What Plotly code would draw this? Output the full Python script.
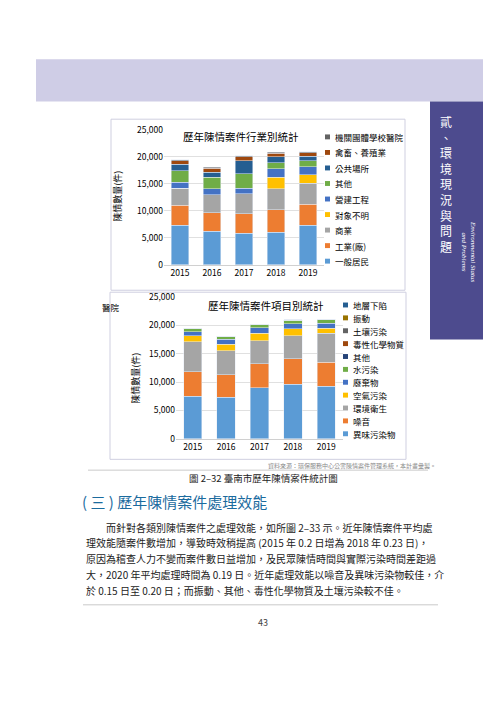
import plotly.graph_objects as go

years = ["2015", "2016", "2017", "2018", "2019"]

# 行業別
ind_names = ["一般居民", "工業(廠)", "商業", "對象不明", "營建工程", "其他",
             "公共場所", "禽畜、養殖業", "機關團體學校醫院"]
ind_vals = [
    [7300, 6200, 5800, 6000, 7300],
    [3700, 3400, 3700, 4200, 3900],
    [3200, 3400, 3700, 3900, 3900],
    [0, 0, 0, 2100, 1600],
    [1100, 1100, 1000, 1600, 1500],
    [2100, 2100, 2700, 1100, 1100],
    [1200, 1000, 2400, 1100, 800],
    [700, 700, 700, 700, 700],
    [200, 200, 200, 200, 200],
]
ind_colors = ["#5b9bd5", "#ed7d31", "#a5a5a5", "#ffc000", "#4472c4",
              "#70ad47", "#255e91", "#9e480e", "#636363"]

# 項目別
item_names = ["異味污染物", "噪音", "環境衛生", "空氣污染", "廢棄物", "水污染",
              "其他", "毒性化學物質", "土壤污染", "振動", "地層下陷"]
item_vals = [
    [7500, 7300, 9000, 9600, 9300],
    [4300, 4000, 4200, 4500, 4200],
    [5300, 4200, 4100, 4100, 5100],
    [1100, 1200, 1300, 1200, 900],
    [700, 900, 1000, 900, 900],
    [500, 400, 500, 600, 600],
    [60, 50, 60, 60, 60],
    [30, 30, 30, 30, 30],
    [20, 20, 20, 20, 20],
    [20, 20, 20, 20, 20],
    [5, 5, 5, 5, 5],
]
item_colors = ["#5b9bd5", "#ed7d31", "#a5a5a5", "#ffc000", "#4472c4",
               "#70ad47", "#264478", "#9e480e", "#636363", "#997300", "#255e91"]

body_lines = [
    "　　而針對各類別陳情案件之處理效能，如所圖 2–33 示。近年陳情案件平均處",
    "理效能隨案件數增加，導致時效稍提高 (2015 年 0.2 日增為 2018 年 0.23 日)，",
    "原因為稽查人力不變而案件數日益增加，及民眾陳情時間與實際污染時間差距過",
    "大，2020 年平均處理時間為 0.19 日。近年處理效能以噪音及異味污染物較佳，介",
    "於 0.15 日至 0.20 日；而振動、其他、毒性化學物質及土壤污染較不佳。",
]

W, H = 500, 707
FONT = "Noto Sans CJK TC"


def px(x):
    return x / W


def py(y):
    return 1 - y / H


fig = go.Figure()
for name, vals, col in zip(ind_names, ind_vals, ind_colors):
    fig.add_trace(go.Bar(x=years, y=vals, name=name, marker_color=col,
                         xaxis="x", yaxis="y", showlegend=False))
for name, vals, col in zip(item_names, item_vals, item_colors):
    fig.add_trace(go.Bar(x=years, y=vals, name=name, marker_color=col,
                         xaxis="x2", yaxis="y2", showlegend=False))

axis_font = dict(family=FONT, size=8.5, color="#000")
yax = dict(range=[0, 25000], dtick=5000, tickformat=",", showgrid=True,
           gridcolor="#e0e0e0", zeroline=False, tickfont=axis_font,
           ticks="", showline=False)
xax = dict(tickfont=axis_font, showline=True, linecolor="#d0d0d0", ticks="")

shapes = [
    dict(type="rect", xref="paper", yref="paper", x0=px(28), x1=px(475),
         y0=py(88), y1=py(45), fillcolor="#cfcde6", line_width=0, layer="below"),
    dict(type="rect", xref="paper", yref="paper", x0=px(422), x1=px(475),
         y0=py(330), y1=py(88), fillcolor="#4d4b8e", line_width=0, layer="below"),
    dict(type="rect", xref="paper", yref="paper", x0=px(103), x1=px(397),
         y0=py(280), y1=py(106), fillcolor="rgba(0,0,0,0)",
         line=dict(color="#cfcfe0", width=1), layer="below"),
    dict(type="rect", xref="paper", yref="paper", x0=px(102), x1=px(398),
         y0=py(452), y1=py(282), fillcolor="rgba(0,0,0,0)",
         line=dict(color="#cfcfe0", width=1), layer="below"),
    dict(type="line", xref="paper", yref="paper", x0=px(80), x1=px(420),
         y0=py(463), y1=py(463), line=dict(color="#bbb", width=0.8)),
    dict(type="line", xref="paper", yref="paper", x0=px(75), x1=px(430),
         y0=py(600), y1=py(600), line=dict(color="#bbb", width=0.8)),
]

annotations = [
    dict(text="歷年陳情案件行業別統計", x=px(233), y=py(124), font=dict(size=10.5)),
    dict(text="歷年陳情案件項目別統計", x=px(258), y=py(296), font=dict(size=10.5)),
    dict(text="陳情數量(件)", x=px(110), y=py(185), textangle=-90, font=dict(size=9)),
    dict(text="陳情數量(件)", x=px(128), y=py(370), textangle=-90, font=dict(size=9)),
    dict(text="醫院", x=px(103), y=py(297), font=dict(size=8.5)),
    dict(text="資料來源：環保服務中心公害陳情案件管理系統，本計畫彙製。",
         x=px(430), y=py(458), xanchor="right", font=dict(size=6, color="#888")),
    dict(text="圖 2–32 臺南市歷年陳情案件統計圖", x=px(255), y=py(471),
         font=dict(size=9.5, color="#222")),
    dict(text="( 三 ) 歷年陳情案件處理效能", x=px(72), y=py(495), xanchor="left",
         font=dict(size=15, color="#1b6b9e")),
    dict(text="43", x=px(255), y=py(618), font=dict(size=9, color="#444")),
    dict(text="<br>".join("貳、環境現況與問題"), x=px(438), y=py(98), yanchor="top",
         font=dict(size=12, color="white")),
    dict(text="<i>Environmental Status<br>and Problems</i>", x=px(460), y=py(240),
         textangle=90, font=dict(size=7, color="white", family="Liberation Serif")),
]
for i, line in enumerate(body_lines):
    annotations.append(dict(text=line, x=px(76), y=py(521 + i * 16), xanchor="left",
                            font=dict(size=10, color="#222")))

# legends, drawn from the series names and colours (top row = last series)
for names, colors, lx, ly, step in [(ind_names, ind_colors, 317, 124, 15.8),
                                    (item_names, item_colors, 335, 295, 13.1)]:
    for i, (name, col) in enumerate(zip(names[::-1], colors[::-1])):
        yc = ly + i * step
        shapes.append(dict(type="rect", xref="paper", yref="paper",
                           x0=px(lx), x1=px(lx + 5), y0=py(yc + 2.5), y1=py(yc - 2.5),
                           fillcolor=col, line_width=0))
        annotations.append(dict(text=name, x=px(lx + 8), y=py(yc), xanchor="left",
                                font=dict(size=8.5, color="#000")))

for a in annotations:
    a.update(xref="paper", yref="paper", showarrow=False)
    a.setdefault("xanchor", "center")
    a.setdefault("yanchor", "middle")

fig.update_layout(
    width=W, height=H, margin=dict(l=0, r=0, t=0, b=0),
    paper_bgcolor="white", plot_bgcolor="white",
    font=dict(family=FONT, color="#000"),
    barmode="stack", bargap=0.45,
    xaxis=dict(domain=[px(156), px(316)], anchor="y", **xax),
    yaxis=dict(domain=[py(254), py(117)], anchor="x", **yax),
    xaxis2=dict(domain=[px(168), px(335)], anchor="y2", **xax),
    yaxis2=dict(domain=[py(431), py(287)], anchor="x2", **yax),
    shapes=shapes, annotations=annotations,
)
fig.write_html("out.html")
